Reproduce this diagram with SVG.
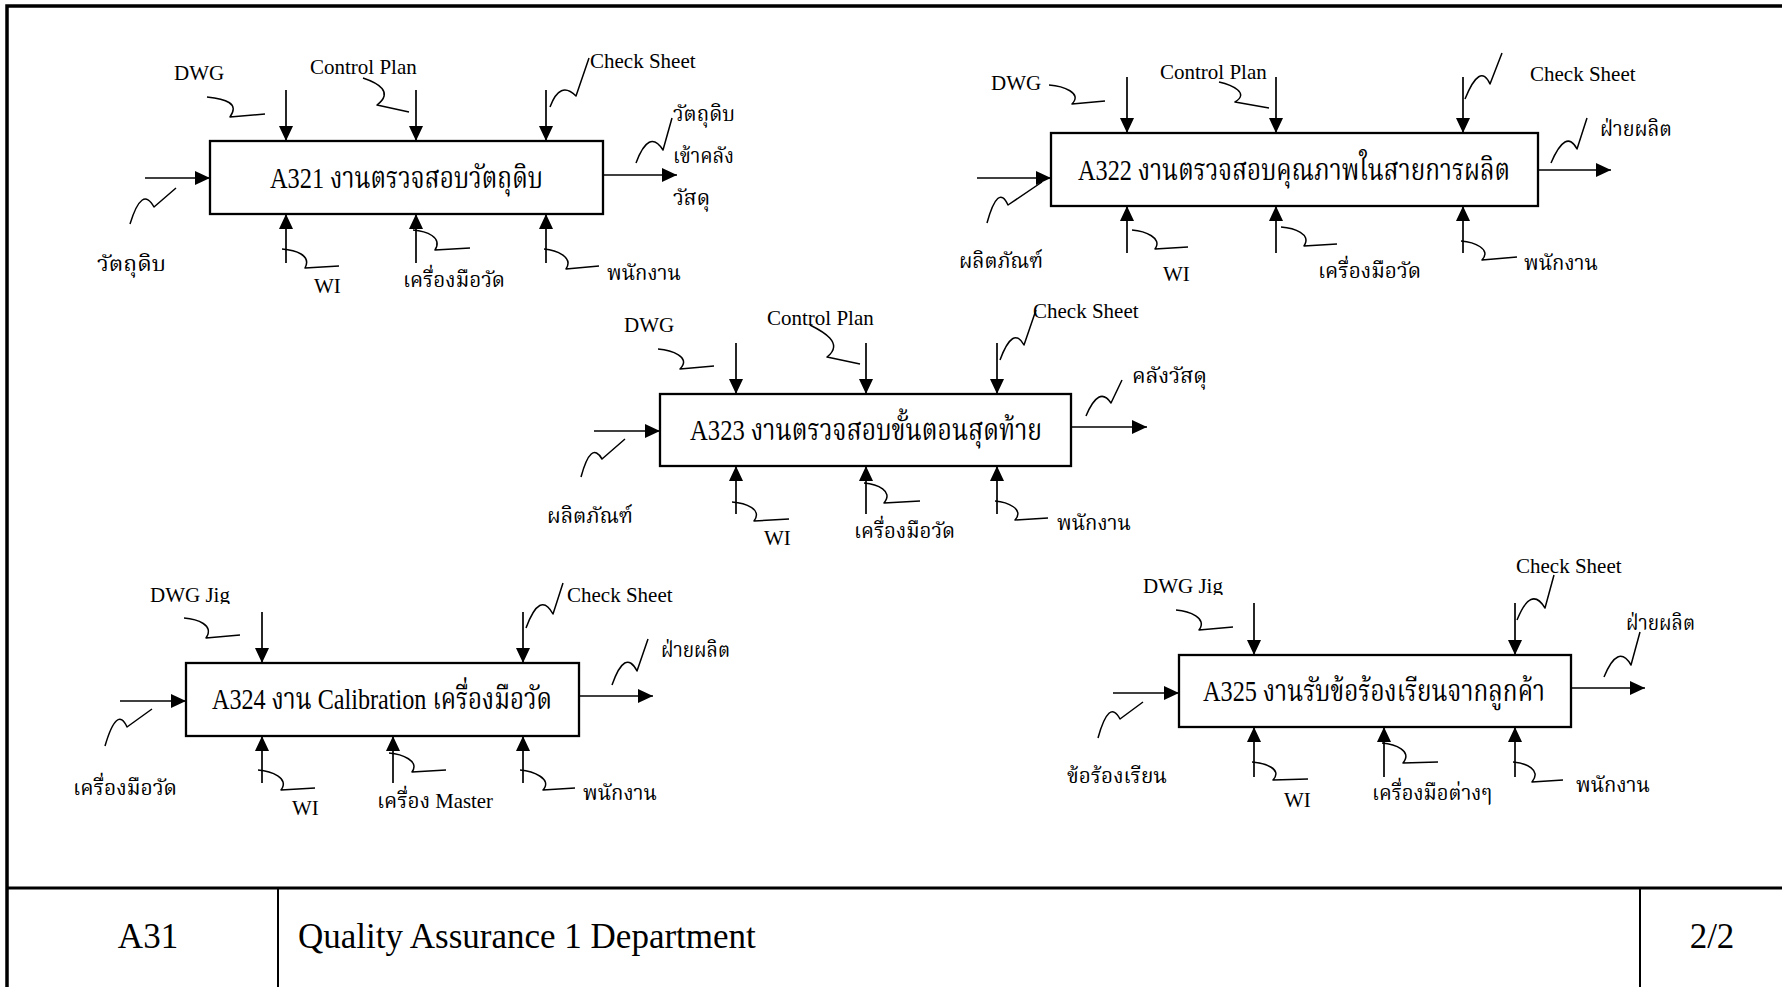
<svg xmlns="http://www.w3.org/2000/svg" width="1782" height="987" viewBox="0 0 1782 987">
  <style>
    .frame { fill: none; stroke: #000; stroke-width: 3.5; }
    .rule { fill: none; stroke: #000; stroke-width: 3; }
    .div { fill: none; stroke: #000; stroke-width: 2; }
    .box { fill: #fff; stroke: #000; stroke-width: 2.3; }
    .arr { fill: none; stroke: #000; stroke-width: 1.7; marker-end: url(#ah); }
    .sq { fill: none; stroke: #000; stroke-width: 1.5; stroke-linejoin: round; }
    text { font-family: "Liberation Serif", "Noto Serif Thai", "Noto Sans Thai", "Tlwg Typo", "Garuda", "Norasi", serif; fill: #000; }
    .lbl { font-size: 21px; }
    .ttl { font-size: 30px; }
    .ftr { font-size: 35px; }
  </style>
  <defs>
    <marker id="ah" viewBox="0 0 15 14" refX="15" refY="7" markerWidth="15" markerHeight="14" markerUnits="userSpaceOnUse" orient="auto">
      <path d="M0,0 L15,7 L0,14 Z" fill="#000"/>
    </marker>
    <!-- the jig-drawing labels sit in cells that crop their descenders -->
    <clipPath id="cutJig1"><rect x="140" y="570" width="100" height="34"/></clipPath>
    <clipPath id="cutJig2"><rect x="1133" y="561" width="100" height="34"/></clipPath>
  </defs>

  <rect width="1782" height="987" fill="#fff"/>

  <!-- sheet frame and title strip -->
  <g id="frame">
    <rect class="frame" x="7" y="6" width="1800" height="1000"/>
    <line class="rule" x1="7" y1="888" x2="1782" y2="888"/>
    <line class="div" x1="278" y1="888" x2="278" y2="987"/>
    <line class="div" x1="1640" y1="888" x2="1640" y2="987"/>
    <text class="ftr" x="148" y="948" text-anchor="middle">A31</text>
    <text class="ftr" x="298" y="948">Quality Assurance 1 Department</text>
    <text class="ftr" x="1712" y="948" text-anchor="middle">2/2</text>
  </g>

  <!-- activity boxes -->
  <g id="A321">
    <rect class="box" x="210" y="141" width="393" height="73"/>
    <text class="ttl" x="270" y="188" textLength="273" lengthAdjust="spacingAndGlyphs">A321 งานตรวจสอบวัตถุดิบ</text>
  </g>
  <g id="A322">
    <rect class="box" x="1051" y="133" width="487" height="73"/>
    <text class="ttl" x="1078" y="180" textLength="432" lengthAdjust="spacingAndGlyphs">A322 งานตรวจสอบคุณภาพในสายการผลิต</text>
  </g>
  <g id="A323">
    <rect class="box" x="660" y="394" width="411" height="72"/>
    <text class="ttl" x="690" y="440" textLength="352" lengthAdjust="spacingAndGlyphs">A323 งานตรวจสอบขั้นตอนสุดท้าย</text>
  </g>
  <g id="A324">
    <rect class="box" x="186" y="663" width="393" height="73"/>
    <text class="ttl" x="212" y="709" textLength="340" lengthAdjust="spacingAndGlyphs">A324 งาน Calibration เครื่องมือวัด</text>
  </g>
  <g id="A325">
    <rect class="box" x="1179" y="655" width="392" height="72"/>
    <text class="ttl" x="1203" y="701" textLength="342" lengthAdjust="spacingAndGlyphs">A325 งานรับข้อร้องเรียนจากลูกค้า</text>
  </g>

  <!-- ICOM arrows and label leaders -->
  <g id="connectors">
    <!-- A321 -->
    <line class="arr" x1="286" y1="90" x2="286" y2="141"/>
    <line class="arr" x1="416" y1="90" x2="416" y2="141"/>
    <line class="arr" x1="546" y1="90" x2="546" y2="141"/>
    <line class="arr" x1="286" y1="263" x2="286" y2="214"/>
    <line class="arr" x1="416" y1="263" x2="416" y2="214"/>
    <line class="arr" x1="546" y1="263" x2="546" y2="214"/>
    <line class="arr" x1="145" y1="178" x2="210" y2="178"/>
    <line class="arr" x1="603" y1="175" x2="677" y2="175"/>
    <path class="sq" d="M207,97 C225,99 240,103 230,117 L265,114"/>
    <path class="sq" d="M363,78 C378,83 394,92 377,105 L409,112"/>
    <path class="sq" d="M550,107 Q560,80 576,96 L589,58"/>
    <path class="sq" d="M130,224 Q142,185 154,207 L176,188"/>
    <path class="sq" d="M636,163 Q649,128 663,150 L672,118"/>
    <path class="sq" d="M282,249 C295,250 312,255 305,268 L339,266"/>
    <path class="sq" d="M413,230 C426,231 443,237 435,250 L470,248"/>
    <path class="sq" d="M544,249 C556,250 574,257 566,269 L599,266"/>

    <!-- A322 -->
    <line class="arr" x1="1127" y1="77" x2="1127" y2="133"/>
    <line class="arr" x1="1276" y1="77" x2="1276" y2="133"/>
    <line class="arr" x1="1463" y1="77" x2="1463" y2="133"/>
    <line class="arr" x1="1127" y1="253" x2="1127" y2="206"/>
    <line class="arr" x1="1276" y1="253" x2="1276" y2="206"/>
    <line class="arr" x1="1463" y1="253" x2="1463" y2="206"/>
    <line class="arr" x1="977" y1="178" x2="1051" y2="178"/>
    <line class="arr" x1="1538" y1="170" x2="1611" y2="170"/>
    <path class="sq" d="M1049,85 C1063,86 1083,93 1072,104 L1105,101"/>
    <path class="sq" d="M1219,82 C1232,85 1250,93 1235,102 L1269,108"/>
    <path class="sq" d="M1465,99 Q1480,62 1490,84 L1502,53"/>
    <path class="sq" d="M1551,163 Q1566,128 1577,149 L1587,118"/>
    <path class="sq" d="M987,223 Q998,183 1008,205 L1042,182"/>
    <path class="sq" d="M1132,230 C1145,231 1163,238 1155,249 L1188,247"/>
    <path class="sq" d="M1281,227 C1294,228 1312,234 1304,246 L1337,244"/>
    <path class="sq" d="M1461,241 C1474,242 1492,249 1482,260 L1517,257"/>

    <!-- A323 -->
    <line class="arr" x1="736" y1="343" x2="736" y2="394"/>
    <line class="arr" x1="866" y1="343" x2="866" y2="394"/>
    <line class="arr" x1="997" y1="343" x2="997" y2="394"/>
    <line class="arr" x1="736" y1="514" x2="736" y2="466"/>
    <line class="arr" x1="866" y1="514" x2="866" y2="466"/>
    <line class="arr" x1="997" y1="514" x2="997" y2="466"/>
    <line class="arr" x1="594" y1="431" x2="660" y2="431"/>
    <line class="arr" x1="1071" y1="427" x2="1147" y2="427"/>
    <path class="sq" d="M658,349 C671,350 692,357 680,369 L714,366"/>
    <path class="sq" d="M810,325 C822,331 845,343 827,357 L860,364"/>
    <path class="sq" d="M1000,360 Q1013,325 1024,345 L1036,310"/>
    <path class="sq" d="M1086,416 Q1099,385 1111,403 L1122,380"/>
    <path class="sq" d="M581,477 Q591,440 602,459 L625,439"/>
    <path class="sq" d="M732,502 C745,503 763,509 754,521 L789,519"/>
    <path class="sq" d="M864,483 C877,484 894,491 884,503 L920,501"/>
    <path class="sq" d="M995,501 C1007,502 1025,509 1015,520 L1048,518"/>

    <!-- A324 -->
    <line class="arr" x1="262" y1="612" x2="262" y2="663"/>
    <line class="arr" x1="523" y1="612" x2="523" y2="663"/>
    <line class="arr" x1="262" y1="783" x2="262" y2="736"/>
    <line class="arr" x1="393" y1="783" x2="393" y2="736"/>
    <line class="arr" x1="523" y1="783" x2="523" y2="736"/>
    <line class="arr" x1="120" y1="701" x2="186" y2="701"/>
    <line class="arr" x1="579" y1="696" x2="653" y2="696"/>
    <path class="sq" d="M184,618 C197,619 215,625 206,638 L240,635"/>
    <path class="sq" d="M526,628 Q540,590 553,614 L563,583"/>
    <path class="sq" d="M612,685 Q625,648 637,671 L648,639"/>
    <path class="sq" d="M105,746 Q117,705 127,727 L152,709"/>
    <path class="sq" d="M258,770 C271,771 290,778 281,790 L315,788"/>
    <path class="sq" d="M389,753 C402,754 420,761 412,772 L446,770"/>
    <path class="sq" d="M520,770 C533,771 553,779 543,790 L575,788"/>

    <!-- A325 -->
    <line class="arr" x1="1254" y1="603" x2="1254" y2="655"/>
    <line class="arr" x1="1515" y1="603" x2="1515" y2="655"/>
    <line class="arr" x1="1254" y1="777" x2="1254" y2="727"/>
    <line class="arr" x1="1384" y1="777" x2="1384" y2="727"/>
    <line class="arr" x1="1515" y1="777" x2="1515" y2="727"/>
    <line class="arr" x1="1113" y1="693" x2="1179" y2="693"/>
    <line class="arr" x1="1571" y1="688" x2="1645" y2="688"/>
    <path class="sq" d="M1176,610 C1189,611 1208,618 1199,630 L1233,627"/>
    <path class="sq" d="M1517,620 Q1531,585 1545,608 L1554,575"/>
    <path class="sq" d="M1604,677 Q1618,643 1631,665 L1640,632"/>
    <path class="sq" d="M1098,738 Q1109,698 1120,719 L1143,702"/>
    <path class="sq" d="M1252,762 C1265,763 1283,769 1273,780 L1308,779"/>
    <path class="sq" d="M1382,743 C1395,744 1413,751 1403,763 L1438,762"/>
    <path class="sq" d="M1513,762 C1526,763 1542,770 1532,782 L1563,780"/>
  </g>

  <!-- arrow labels -->
  <g id="labels" class="lbl">
    <!-- A321 -->
    <text class="lbl" x="174" y="80">DWG</text>
    <text class="lbl" x="310" y="74">Control Plan</text>
    <text class="lbl" x="590" y="68">Check Sheet</text>
    <text class="lbl" x="673" y="121" textLength="62" lengthAdjust="spacingAndGlyphs">วัตถุดิบ</text>
    <text class="lbl" x="673" y="163" textLength="61" lengthAdjust="spacingAndGlyphs">เข้าคลัง</text>
    <text class="lbl" x="673" y="205" textLength="37" lengthAdjust="spacingAndGlyphs">วัสดุ</text>
    <text class="lbl" x="97" y="271" textLength="69" lengthAdjust="spacingAndGlyphs">วัตถุดิบ</text>
    <text class="lbl" x="314" y="293">WI</text>
    <text class="lbl" x="403" y="287" textLength="102" lengthAdjust="spacingAndGlyphs">เครื่องมือวัด</text>
    <text class="lbl" x="607" y="280" textLength="74" lengthAdjust="spacingAndGlyphs">พนักงาน</text>

    <!-- A322 -->
    <text class="lbl" x="991" y="90">DWG</text>
    <text class="lbl" x="1160" y="79">Control Plan</text>
    <text class="lbl" x="1530" y="81">Check Sheet</text>
    <text class="lbl" x="1600" y="136" textLength="72" lengthAdjust="spacingAndGlyphs">ฝ่ายผลิต</text>
    <text class="lbl" x="959" y="268" textLength="84" lengthAdjust="spacingAndGlyphs">ผลิตภัณฑ์</text>
    <text class="lbl" x="1163" y="281">WI</text>
    <text class="lbl" x="1318" y="278" textLength="103" lengthAdjust="spacingAndGlyphs">เครื่องมือวัด</text>
    <text class="lbl" x="1524" y="270" textLength="74" lengthAdjust="spacingAndGlyphs">พนักงาน</text>

    <!-- A323 -->
    <text class="lbl" x="624" y="332">DWG</text>
    <text class="lbl" x="767" y="325">Control Plan</text>
    <text class="lbl" x="1033" y="318">Check Sheet</text>
    <text class="lbl" x="1132" y="383" textLength="75" lengthAdjust="spacingAndGlyphs">คลังวัสดุ</text>
    <text class="lbl" x="547" y="523" textLength="86" lengthAdjust="spacingAndGlyphs">ผลิตภัณฑ์</text>
    <text class="lbl" x="764" y="545">WI</text>
    <text class="lbl" x="854" y="538" textLength="101" lengthAdjust="spacingAndGlyphs">เครื่องมือวัด</text>
    <text class="lbl" x="1057" y="530" textLength="74" lengthAdjust="spacingAndGlyphs">พนักงาน</text>

    <!-- A324 -->
    <text class="lbl" x="150" y="602" clip-path="url(#cutJig1)">DWG Jig</text>
    <text class="lbl" x="567" y="602">Check Sheet</text>
    <text class="lbl" x="661" y="657" textLength="69" lengthAdjust="spacingAndGlyphs">ฝ่ายผลิต</text>
    <text class="lbl" x="73" y="795" textLength="104" lengthAdjust="spacingAndGlyphs">เครื่องมือวัด</text>
    <text class="lbl" x="292" y="815">WI</text>
    <text class="lbl" x="377" y="808" textLength="116" lengthAdjust="spacingAndGlyphs">เครื่อง Master</text>
    <text class="lbl" x="583" y="800" textLength="74" lengthAdjust="spacingAndGlyphs">พนักงาน</text>

    <!-- A325 -->
    <text class="lbl" x="1143" y="593" clip-path="url(#cutJig2)">DWG Jig</text>
    <text class="lbl" x="1516" y="573">Check Sheet</text>
    <text class="lbl" x="1626" y="630" textLength="69" lengthAdjust="spacingAndGlyphs">ฝ่ายผลิต</text>
    <text class="lbl" x="1067" y="783" textLength="100" lengthAdjust="spacingAndGlyphs">ข้อร้องเรียน</text>
    <text class="lbl" x="1284" y="807">WI</text>
    <text class="lbl" x="1372" y="800" textLength="120" lengthAdjust="spacingAndGlyphs">เครื่องมือต่างๆ</text>
    <text class="lbl" x="1576" y="792" textLength="74" lengthAdjust="spacingAndGlyphs">พนักงาน</text>
  </g>
</svg>
